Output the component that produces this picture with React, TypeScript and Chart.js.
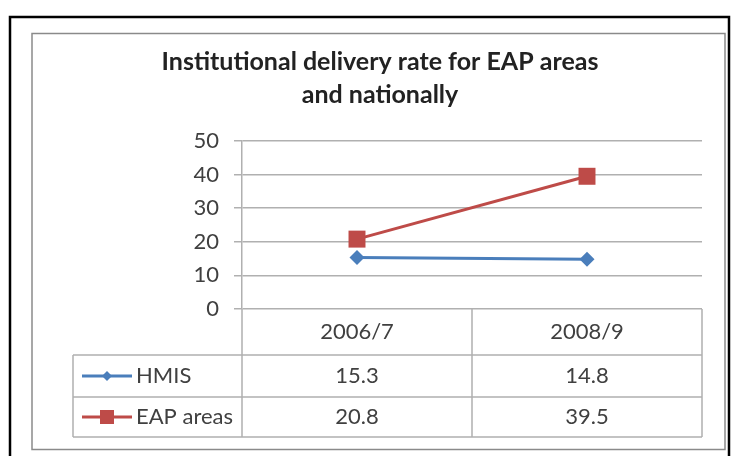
import React, { useEffect, useRef } from "react";
import { Chart, registerables } from "chart.js";

Chart.register(...registerables);

const categories = ["2006/7", "2008/9"];
const hmisValues = [15.3, 14.8];
const eapValues = [20.8, 39.5];
const seriesNames = ["HMIS", "EAP areas"];
const titleLines = ["Institutional delivery rate for EAP areas", "and nationally"];
const yTicks = { min: 0, max: 50, step: 10 };

const BLUE = "#4A7EBB";
const RED = "#BE4B48";
const GRID = "#b0b0b0";
const TEXT = "#404040";
const FONT = "Lato, 'Open Sans', sans-serif";

const framePlugin = {
  id: "frame",
  beforeDraw(chart: any) {
    const { ctx, width, height } = chart;
    ctx.save();
    ctx.fillStyle = "#ffffff";
    ctx.fillRect(0, 0, width, height);
    // outer black border
    ctx.strokeStyle = "#000000";
    ctx.lineWidth = 2.5;
    ctx.strokeRect(10, 17, 719, 460);
    // chart area border
    ctx.strokeStyle = "#8a8a8a";
    ctx.lineWidth = 1.5;
    ctx.strokeRect(32, 33.5, 693, 416);
    // title
    ctx.fillStyle = "#222222";
    ctx.font = `bold 25px ${FONT}`;
    ctx.textAlign = "center";
    ctx.textBaseline = "middle";
    ctx.fillText(titleLines[0], 380, 62);
    ctx.fillText(titleLines[1], 380, 95);
    ctx.restore();
  },
  afterDraw(chart: any) {
    const { ctx, chartArea } = chart;
    const xs = chart.scales.x;
    const left = chartArea.left;
    const right = chartArea.right;
    const top0 = chartArea.bottom;
    const rowTops = [355, 397];
    const bottom = 437;
    const labelLeft = 73;
    const n = categories.length;
    const bounds: number[] = [];
    for (let i = 0; i <= n; i++) {
      if (i === 0) bounds.push(left);
      else if (i === n) bounds.push(right);
      else bounds.push((xs.getPixelForValue(i - 1) + xs.getPixelForValue(i)) / 2);
    }
    ctx.save();
    ctx.strokeStyle = GRID;
    ctx.lineWidth = 1.5;
    ctx.beginPath();
    bounds.forEach((b) => {
      ctx.moveTo(b, top0);
      ctx.lineTo(b, bottom);
    });
    ctx.moveTo(labelLeft, rowTops[0]);
    ctx.lineTo(labelLeft, bottom);
    rowTops.concat([bottom]).forEach((y) => {
      ctx.moveTo(labelLeft, y);
      ctx.lineTo(right, y);
    });
    ctx.stroke();

    ctx.fillStyle = TEXT;
    ctx.font = `22px ${FONT}`;
    ctx.textAlign = "center";
    ctx.textBaseline = "middle";
    categories.forEach((c, i) => {
      ctx.fillText(c, xs.getPixelForValue(i), (top0 + rowTops[0]) / 2);
    });
    const rows = [hmisValues, eapValues];
    const rowBottoms = [rowTops[1], bottom];
    rows.forEach((vals, r) => {
      const yc = (rowTops[r] + rowBottoms[r]) / 2;
      vals.forEach((v, i) => {
        ctx.fillText(v.toFixed(1), xs.getPixelForValue(i), yc);
      });
    });

    // legend keys
    const keyL = 82;
    const keyR = 132;
    const keyC = (keyL + keyR) / 2;
    [BLUE, RED].forEach((col, r) => {
      const yc = (rowTops[r] + rowBottoms[r]) / 2;
      ctx.strokeStyle = col;
      ctx.lineWidth = 3;
      ctx.beginPath();
      ctx.moveTo(keyL, yc);
      ctx.lineTo(keyR, yc);
      ctx.stroke();
      ctx.fillStyle = col;
      if (r === 0) {
        ctx.beginPath();
        ctx.moveTo(keyC, yc - 5);
        ctx.lineTo(keyC + 5, yc);
        ctx.lineTo(keyC, yc + 5);
        ctx.lineTo(keyC - 5, yc);
        ctx.closePath();
        ctx.fill();
      } else {
        ctx.fillRect(keyC - 7, yc - 7, 14, 14);
      }
      ctx.fillStyle = TEXT;
      ctx.textAlign = "left";
      ctx.fillText(seriesNames[r], keyR + 4, yc);
    });
    ctx.restore();
  },
};

export default function App() {
  const ref = useRef<HTMLCanvasElement | null>(null);
  useEffect(() => {
    if (!ref.current) return;
    const chart = new Chart(ref.current, {
      type: "line",
      data: {
        labels: categories,
        datasets: [
          {
            label: seriesNames[0],
            data: hmisValues,
            borderColor: BLUE,
            backgroundColor: BLUE,
            borderWidth: 3,
            pointStyle: "rectRot",
            pointRadius: 7.5,
            pointBorderWidth: 0,
            tension: 0,
          },
          {
            label: seriesNames[1],
            data: eapValues,
            borderColor: RED,
            backgroundColor: RED,
            borderWidth: 3,
            pointStyle: "rect",
            pointRadius: 12,
            pointBorderWidth: 0,
            tension: 0,
          },
        ],
      },
      options: {
        animation: false,
        responsive: false,
        devicePixelRatio: 1,
        layout: { padding: { top: 141, right: 31, bottom: 147, left: 0 } },
        plugins: { legend: { display: false }, title: { display: false }, tooltip: { enabled: false } },
        scales: {
          x: {
            type: "category",
            offset: true,
            ticks: { display: false },
            grid: { display: false, drawTicks: false, tickLength: 0 },
            border: { display: false },
          },
          y: {
            min: yTicks.min,
            max: yTicks.max,
            ticks: {
              stepSize: yTicks.step,
              padding: 15,
              color: TEXT,
              font: { family: FONT, size: 22 },
            },
            grid: { color: GRID, tickLength: 8, lineWidth: 1.5 },
            border: { display: true, color: GRID, width: 1.5 },
            afterFit: (scale: any) => {
              scale.width = 242;
            },
          },
        },
      },
      plugins: [framePlugin],
    });
    return () => chart.destroy();
  }, []);
  return (
    <div style={{ position: "fixed", left: 0, top: 0, width: 733, height: 456 }}>
      <canvas ref={ref} width={733} height={456} style={{ width: 733, height: 456, display: "block" }} />
    </div>
  );
}
